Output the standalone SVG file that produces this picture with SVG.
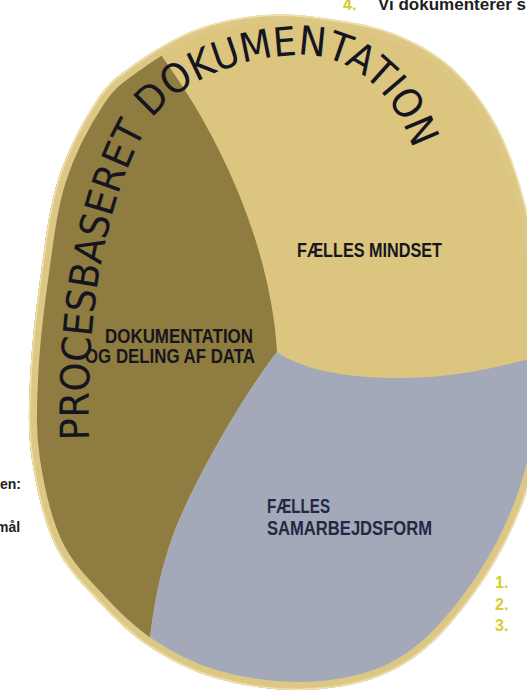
<svg xmlns="http://www.w3.org/2000/svg" width="527" height="695" viewBox="0 0 527 695">
<style>
.lbl{font-family:"Liberation Sans",Arial,sans-serif;font-weight:bold;font-size:20px;fill:#16161c}
.lbl2{font-family:"Liberation Sans",Arial,sans-serif;font-weight:bold;font-size:20px;fill:#222843}
.arc{font-family:"DejaVu Sans","Liberation Sans",sans-serif;font-size:40px;fill:#15151f}
.side{font-family:"Liberation Sans",Arial,sans-serif;font-weight:bold;fill:#1e1e24}
.num{font-family:"Liberation Sans",Arial,sans-serif;font-weight:bold;font-size:16px;fill:#d6cc2c}
</style>
<defs>
<path id="outer" d="M265,15 C287.5,13.2 308.3,15.8 330,19 C351.7,22.2 374.7,25.8 395,34 C415.3,42.2 435.2,52.8 452,68 C468.8,83.2 484,103 496,125 C508,147 516.7,172.5 524,200 C531.3,227.5 536.8,258.3 540,290 C543.2,321.7 545.5,358.3 544,390 C544,470 510,560 440,635 C422.2,653.2 403.3,666.8 380,676 C356.7,685.2 327.5,689.7 300,690 C272.5,690.3 240,685.2 215,678 C190,670.8 169.2,659.5 150,647 C130.8,634.5 115.8,620 100,603 C84.2,586 66.3,568.8 55,545 C43.7,521.2 36.2,487.5 32,460 C27.8,432.5 28.7,410 30,380 C31.3,350 35.3,313.3 40,280 C44.7,246.7 48.5,210 58,180 C67.5,150 84.2,119.3 97,100 C109.8,80.7 118.7,75.7 135,64 C151.3,52.3 173.3,38.2 195,30 C216.7,21.8 242.5,16.8 265,15 Z"/>
<clipPath id="clip"><use href="#outer"/></clipPath>
<path id="arcpath" d="M89,440 C86,330 100,200 155,115 C190,75 250,55 305,55 C355,57 400,95 418,165"/>
</defs>
<rect width="527" height="695" fill="#ffffff"/>
<g id="wheel">
<use href="#outer" fill="#dcc67f"/>
<g clip-path="url(#clip)">
<path id="seg-dokumentation" d="M277,352 C272,260 230,150 163,58 L140,20 L-20,-20 L-20,720 L140,720 L148,660 C152,610 160,570 175,530 C195,480 240,400 277,352 Z" fill="#8f7c40"/>
<path id="seg-samarbejdsform" d="M277,352 C300,368 340,378 400,378 C460,378 510,365 560,350 L560,720 L140,720 L148,660 C152,610 160,570 175,530 C195,480 240,400 277,352 Z" fill="#a3a9b8"/>
<use href="#outer" fill="none" stroke="#dcc784" stroke-width="16"/>
<use href="#outer" fill="none" stroke="#efe2ad" stroke-width="3"/>
</g>
</g>
<g id="node-title">
<text class="arc"><textPath href="#arcpath" textLength="655" lengthAdjust="spacingAndGlyphs">PROCESBASERET DOKUMENTATION</textPath></text>
</g>
<g id="node-mindset">
<text class="lbl" x="297" y="257" textLength="145" lengthAdjust="spacingAndGlyphs">FÆLLES MINDSET</text>
</g>
<g id="node-data">
<text class="lbl" x="105" y="343" textLength="148" lengthAdjust="spacingAndGlyphs">DOKUMENTATION</text>
<text class="lbl" x="85" y="363" textLength="170" lengthAdjust="spacingAndGlyphs">OG DELING AF DATA</text>
</g>
<g id="node-samarbejde">
<text class="lbl2" x="267" y="513" textLength="63" lengthAdjust="spacingAndGlyphs">FÆLLES</text>
<text class="lbl2" x="267" y="535" textLength="165" lengthAdjust="spacingAndGlyphs">SAMARBEJDSFORM</text>
</g>
<g id="edge-texts">
<text class="num" x="343" y="10">4.</text>
<text class="side" x="378" y="10" font-size="17">Vi dokumenterer s</text>
<text class="side" x="0" y="489" font-size="14">en:</text>
<text class="side" x="-4" y="532" font-size="14">mål</text>
<text class="num" x="495" y="588">1.</text>
<text class="num" x="495" y="610">2.</text>
<text class="num" x="495" y="631">3.</text>
</g>
<g id="connectors"></g>
</svg>
